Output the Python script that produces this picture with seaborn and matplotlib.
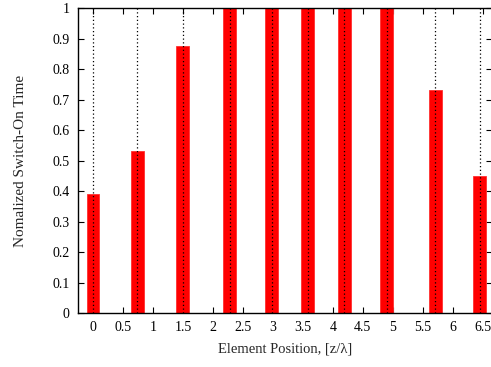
import matplotlib
matplotlib.use("Agg")
import matplotlib.pyplot as plt
import seaborn as sns
import numpy as np
import pandas as pd

positions = [0, 0.74, 1.5, 2.28, 2.98, 3.58, 4.19, 4.9, 5.71, 6.45]
values = [0.39, 0.53, 0.875, 1.0, 1.0, 1.0, 1.0, 1.0, 0.73, 0.45]
xticks = [0, 0.5, 1, 1.5, 2, 2.5, 3, 3.5, 4, 4.5, 5, 5.5, 6, 6.5]
yticks = [0, 0.1, 0.2, 0.3, 0.4, 0.5, 0.6, 0.7, 0.8, 0.9, 1]

sns.set_theme(style="ticks")
plt.rcParams['font.family'] = ['Liberation Serif', 'DejaVu Serif']
plt.rcParams['xtick.direction'] = 'in'
plt.rcParams['ytick.direction'] = 'in'

fig = plt.figure(figsize=(4.91, 3.67), dpi=100)
ax = fig.add_axes([78/491, 1 - 313/367, 414/491, 305/367])

df = pd.DataFrame({"pos": positions, "val": values})
min_gap = min(np.diff(positions))
sns.barplot(data=df, x="pos", y="val", native_scale=True, width=0.215 / min_gap,
            color="#ff0000", saturation=1, edgecolor="#ff3030", linewidth=0.6, ax=ax, zorder=2)
ax.vlines(positions, 0, 1, colors="black", linestyles=(0, (1, 2)), linewidth=0.9, zorder=3)

ax.set_xlim(-0.25, 6.655)
ax.set_ylim(0, 1)
ax.set_xticks(xticks)
ax.set_xticklabels([f"{t:g}" for t in xticks])
ax.set_yticks(yticks)
ax.set_yticklabels([f"{t:g}" for t in yticks])
ax.tick_params(axis="both", which="both", direction="in", length=4, width=0.8,
               labelsize=10, top=True, right=True, colors="black", pad=6)
for s in ax.spines.values():
    s.set_linewidth(1.0)
    s.set_color("black")
ax.set_xlabel("Element Position, [z/λ]", fontsize=10.5, labelpad=6)
ax.set_ylabel("Nomalized Switch-On Time", fontsize=11, labelpad=18)

fig.savefig("out.png", dpi=100)
